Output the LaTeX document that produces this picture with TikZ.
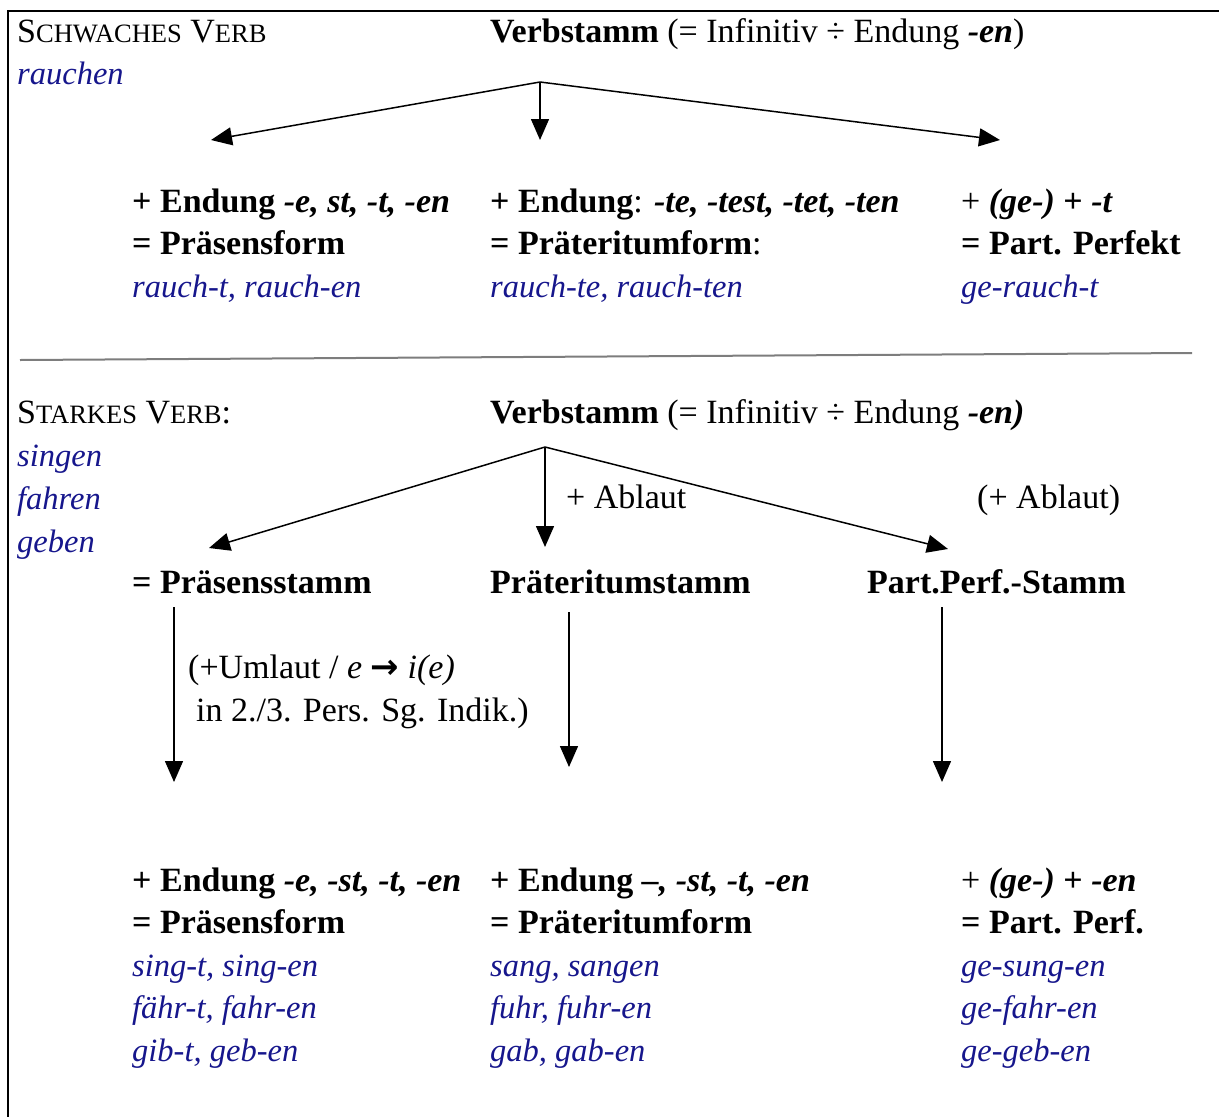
\documentclass[tikz,border=0pt]{standalone}
\usepackage{fontspec}
\setmainfont{Liberation Serif}
\newfontfamily\arrowfont{DejaVu Sans}
\usetikzlibrary{arrows.meta}
\definecolor{exblue}{RGB}{22,22,140}
\definecolor{rulegray}{RGB}{125,125,125}
% small capitals built from a reduced size
\newcommand{\kap}[1]{{\fontsize{26.5}{30}\selectfont #1}}
\newcommand{\bi}[1]{\textbf{\textit{#1}}}
\begin{document}
\begin{tikzpicture}[x=1pt,y=-1pt,
  txt/.style={anchor=base west, inner sep=0pt, font=\fontsize{34}{42.5}\selectfont},
  ex/.style={txt, text=exblue, font=\fontsize{32.5}{42.5}\selectfont\itshape},
  arr/.style={line width=1.5pt, -{Triangle[length=21pt,width=18pt]}}]
\useasboundingbox (0,0) rectangle (1219,1117);

% frame (top and left edges)
\draw[line width=2.2pt] (8,1117) -- (8,11) -- (1225,11);
% separator between the two verb types
\draw[rulegray, line width=2pt] (20,360) -- (1192,353);

% ---------- weak verb ----------
\node[txt] (wtitle) at (17,42) {S\kap{CHWACHES} V\kap{ERB}};
\node[ex] (wex) at (17,84) {rauchen};
\node[txt] (wstem) at (490,42) {\textbf{Verbstamm} (= Infinitiv ÷ Endung \bi{-en})};

\node[txt] (wpresa) at (132,212) {\textbf{+ Endung \textit{-e, st, -t, -en}}};
\node[txt] (wpresb) at (132,254) {\textbf{= Präsensform}};
\node[ex]  (wpresc) at (132,297) {rauch-t, rauch-en};
\node[txt] (wprata) at (490,212) {\textbf{+ Endung}: \bi{-te, -test, -tet, -ten}};
\node[txt] (wpratb) at (490,254) {\textbf{= Präteritumform}:};
\node[ex]  (wpratc) at (490,297) {rauch-te, rauch-ten};
\node[txt] (wparta) at (961,212) {+ \bi{(ge-)} \textbf{+ \textit{-t}}};
\node[txt] (wpartb) at (961,254) {\textbf{= Part. Perfekt}};
\node[ex]  (wpartc) at (961,297) {ge-rauch-t};

\coordinate (wroot) at (540,82);
\coordinate (wl) at (211,140);
\coordinate (wm) at (540,140);
\coordinate (wr) at (1000,140);
\draw[arr] (wroot) -- (wl);
\draw[arr] (wroot) -- (wm);
\draw[arr] (wroot) -- (wr);

% ---------- strong verb ----------
\node[txt] (stitle) at (17,423) {S\kap{TARKES} V\kap{ERB}:};
\node[ex] (sexa) at (17,466) {singen};
\node[ex] (sexb) at (17,509) {fahren};
\node[ex] (sexc) at (17,552) {geben};
\node[txt] (sstem) at (490,423) {\textbf{Verbstamm} (= Infinitiv ÷ Endung \bi{-en)}};

\coordinate (sroot) at (545,447);
\coordinate (sl) at (209,548);
\coordinate (sm) at (545,547);
\coordinate (sr) at (948,549);
\draw[arr] (sroot) -- (sl);
\draw[arr] (sroot) -- (sm);
\draw[arr] (sroot) -- (sr);
\node[txt] (abl1) at (566,508) {+ Ablaut};
\node[txt] (abl2) at (977,508) {(+ Ablaut)};

\node[txt] (pstem) at (132,593) {\textbf{= Präsensstamm}};
\node[txt] (prstem) at (490,593) {\textbf{Präteritumstamm}};
\node[txt] (ppstem) at (867,593) {\textbf{Part.Perf.-Stamm}};

\coordinate (pa) at (174,607);  \coordinate (pb) at (174,782);
\coordinate (qa) at (569,612);  \coordinate (qb) at (569,767);
\coordinate (ra) at (942,607);  \coordinate (rb) at (942,782);
\draw[arr] (pa) -- (pb);
\draw[arr] (qa) -- (qb);
\draw[arr] (ra) -- (rb);
\node[txt] (umla) at (188,678) {(+Umlaut / \textit{e} {\arrowfont\bfseries →} \textit{i(e)}};
\node[txt] (umlb) at (196,721) {in 2./3. Pers. Sg. Indik.)};

\node[txt] (spresa) at (132,891) {\textbf{+ Endung \textit{-e, -st, -t, -en}}};
\node[txt] (spresb) at (132,933) {\textbf{= Präsensform}};
\node[ex]  (spresc) at (132,976) {sing-t, sing-en};
\node[ex]  (spresd) at (132,1018) {fähr-t, fahr-en};
\node[ex]  (sprese) at (132,1061) {gib-t, geb-en};
\node[txt] (sprata) at (490,891) {\textbf{+ Endung \textit{–, -st, -t, -en}}};
\node[txt] (spratb) at (490,933) {\textbf{= Präteritumform}};
\node[ex]  (spratc) at (490,976) {sang, sangen};
\node[ex]  (spratd) at (490,1018) {fuhr, fuhr-en};
\node[ex]  (sprate) at (490,1061) {gab, gab-en};
\node[txt] (sparta) at (961,891) {+ \bi{(ge-)} \textbf{+ \textit{-en}}};
\node[txt] (spartb) at (961,933) {\textbf{= Part. Perf.}};
\node[ex]  (spartc) at (961,976) {ge-sung-en};
\node[ex]  (spartd) at (961,1018) {ge-fahr-en};
\node[ex]  (sparte) at (961,1061) {ge-geb-en};
\end{tikzpicture}
\end{document}
